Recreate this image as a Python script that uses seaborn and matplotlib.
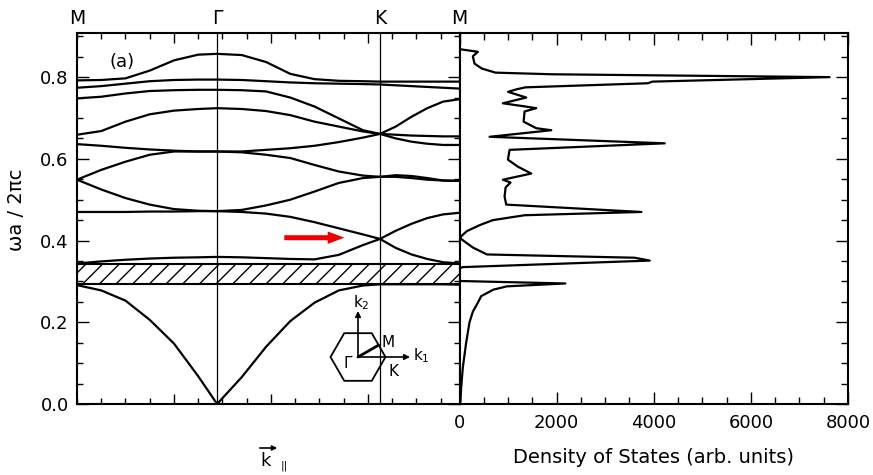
import numpy as np
import pandas as pd
import matplotlib
matplotlib.use("Agg")
import matplotlib.pyplot as plt
import matplotlib.transforms as mtransforms
from matplotlib.patches import Rectangle, Polygon, FancyArrowPatch
from matplotlib.ticker import MultipleLocator, FixedLocator
import seaborn as sns

# ---------------- data ----------------
# positions along the M - Gamma - K - M path (arbitrary units, proportional to |k|)
K_PATH = [0.0, 0.1, 0.2, 0.3, 0.4, 0.5, 0.578,
          0.68, 0.78, 0.88, 0.98, 1.08, 1.18, 1.25,
          1.315, 1.38, 1.445, 1.51, 1.578]
SYM_POS = [0.0, 0.578, 1.25, 1.578]
SYM_LABELS = ["M", "Γ", "K", "M"]

band1 = [0.291, 0.278, 0.253, 0.206, 0.148, 0.068, 0.000, 0.066, 0.140, 0.203, 0.248, 0.278, 0.290, 0.293, 0.293, 0.293, 0.293, 0.293, 0.292]
band2 = [0.344, 0.349, 0.353, 0.356, 0.358, 0.359, 0.360, 0.359, 0.357, 0.355, 0.354, 0.365, 0.389, 0.404, 0.382, 0.366, 0.355, 0.347, 0.344]
band3 = [0.470, 0.470, 0.470, 0.471, 0.471, 0.472, 0.472, 0.470, 0.466, 0.458, 0.445, 0.430, 0.415, 0.404, 0.424, 0.441, 0.455, 0.464, 0.468]
band4 = [0.549, 0.525, 0.504, 0.488, 0.477, 0.473, 0.472, 0.475, 0.486, 0.500, 0.520, 0.541, 0.553, 0.556, 0.556, 0.553, 0.549, 0.547, 0.546]
band5 = [0.636, 0.632, 0.627, 0.623, 0.620, 0.618, 0.618, 0.616, 0.610, 0.602, 0.585, 0.569, 0.559, 0.556, 0.560, 0.558, 0.553, 0.547, 0.546]
band6 = [0.549, 0.573, 0.593, 0.610, 0.618, 0.618, 0.618, 0.618, 0.622, 0.626, 0.632, 0.641, 0.652, 0.661, 0.650, 0.642, 0.637, 0.634, 0.634]
band7 = [0.659, 0.668, 0.691, 0.709, 0.718, 0.722, 0.724, 0.722, 0.717, 0.707, 0.691, 0.679, 0.667, 0.661, 0.659, 0.657, 0.656, 0.655, 0.655]
band8 = [0.748, 0.752, 0.760, 0.766, 0.768, 0.769, 0.769, 0.768, 0.765, 0.750, 0.728, 0.699, 0.670, 0.661, 0.679, 0.703, 0.724, 0.740, 0.746]
band9 = [0.774, 0.778, 0.784, 0.790, 0.793, 0.794, 0.794, 0.793, 0.790, 0.787, 0.785, 0.784, 0.783, 0.782, 0.780, 0.778, 0.776, 0.774, 0.772]
band10 = [0.792, 0.793, 0.797, 0.816, 0.841, 0.855, 0.857, 0.854, 0.837, 0.808, 0.795, 0.791, 0.790, 0.789, 0.789, 0.789, 0.789, 0.789, 0.789]
BANDS = [band1, band2, band3, band4, band5, band6, band7, band8, band9, band10]

GAP_LOW = 0.293
GAP_HIGH = 0.343

# density of states, traced from top (high frequency) to bottom
dos_omega = [0.868, 0.862, 0.851, 0.833, 0.821, 0.811, 0.807, 0.800, 0.789, 0.785,
             0.775, 0.770, 0.764, 0.750, 0.736, 0.729, 0.724, 0.716, 0.691, 0.675,
             0.670, 0.654, 0.638, 0.622, 0.598, 0.581, 0.564, 0.549, 0.542, 0.530,
             0.508, 0.488, 0.470, 0.462, 0.450, 0.438, 0.423, 0.410, 0.405, 0.383,
             0.366, 0.358, 0.351, 0.335, 0.331, 0.302, 0.301, 0.295, 0.288, 0.280,
             0.264, 0.248, 0.226, 0.200, 0.150, 0.090, 0.040, 0.008, 0.000]
dos_value = [30, 378, 275, 309, 460, 740, 1900, 7620, 3970, 3880,
             1360, 1168, 1000, 1375, 893, 1306, 1581, 1340, 1320, 1581,
             1890, 619, 4227, 1031, 997, 1200, 1478, 893, 1050, 950,
             928, 962, 3746, 1340, 687, 420, 150, 30, 20, 275,
             565, 3608, 3918, 60, 0, 0, 20, 2180, 980, 700,
             447, 378, 275, 206, 137, 69, 34, 20, 0]

DOS_TICKS = [0, 2000, 4000, 6000, 8000]

# ---------------- style ----------------
sns.set_style("ticks")
plt.rcParams["font.family"] = ["DejaVu Sans"]
plt.rcParams["hatch.linewidth"] = 1.0
plt.rcParams["axes.linewidth"] = 1.5
for key in ["text.color", "axes.labelcolor", "xtick.color", "ytick.color", "axes.edgecolor"]:
    plt.rcParams[key] = "black"

W, H = 873, 475
fig = plt.figure(figsize=(W / 100, H / 100), dpi=100)

def fx(px):
    return px / W

def fy(py):
    return 1 - py / H

ax1 = fig.add_axes([fx(77), fy(404), fx(459.5) - fx(77), fy(33) - fy(404)])
ax2 = fig.add_axes([fx(459.5), fy(404), fx(848) - fx(459.5), fy(33) - fy(404)])

YMAX = 0.908

# ---------------- band structure ----------------
rows = []
for b, vals in enumerate(BANDS):
    for k, w in zip(K_PATH, vals):
        rows.append({"band": b, "k": k, "omega": w})
df_bands = pd.DataFrame(rows)

ax1.add_patch(Rectangle((0, GAP_LOW), SYM_POS[-1], GAP_HIGH - GAP_LOW,
                        facecolor="none", edgecolor="black", hatch="//",
                        lw=1.5, zorder=1))
for p in SYM_POS[1:3]:
    ax1.axvline(p, color="black", lw=0.9, zorder=1)

sns.lineplot(data=df_bands, x="k", y="omega", units="band", estimator=None,
             sort=False, color="black", lw=1.6, ax=ax1, legend=False, zorder=3)

ax1.set_xlim(0, SYM_POS[-1])
ax1.set_ylim(0, YMAX)
ax1.set_xlabel("")
ax1.set_ylabel("")
ax1.xaxis.set_major_locator(FixedLocator([0.4, 0.8, 1.2]))
ax1.xaxis.set_minor_locator(MultipleLocator(0.1))
ax1.yaxis.set_major_locator(MultipleLocator(0.2))
ax1.yaxis.set_minor_locator(MultipleLocator(0.05))
ax1.yaxis.set_major_formatter(plt.FuncFormatter(lambda v, p: f"{v:.1f}"))
ax1.tick_params(axis="x", which="both", direction="in", top=True, bottom=True,
                labelbottom=False, width=1.0)
ax1.tick_params(axis="x", which="major", length=7.5)
ax1.tick_params(axis="x", which="minor", length=4.5)
ax1.tick_params(axis="y", which="both", direction="in", left=True, right=True,
                width=1.0, labelsize=13, pad=6)
ax1.tick_params(axis="y", which="major", length=8.5)
ax1.tick_params(axis="y", which="minor", length=4.5)
for s in ax1.spines.values():
    s.set_linewidth(1.5)

trans = mtransforms.blended_transform_factory(ax1.transData, ax1.transAxes)
for p, lab in zip(SYM_POS, SYM_LABELS):
    ax1.text(p, 1.014, lab, transform=trans, ha="center", va="bottom", fontsize=13.5)

ax1.text(0.184, 0.838, "(a)", ha="center", va="center", fontsize=13)

# red arrow
ax1.annotate("", xy=(1.103, 0.407), xytext=(0.855, 0.407),
             arrowprops=dict(arrowstyle="simple,head_length=1.2,head_width=0.9,tail_width=0.36",
                             mutation_scale=10, fc="#f00000", ec="#f00000", lw=0,
                             shrinkA=0, shrinkB=0), zorder=5)

# ---------------- density of states ----------------
df_dos = pd.DataFrame({"dos": dos_value, "omega": dos_omega})
sns.lineplot(data=df_dos, x="dos", y="omega", sort=False, estimator=None,
             color="black", lw=1.6, ax=ax2, legend=False)
ax2.set_xlim(0, 8000)
ax2.set_ylim(0, YMAX)
ax2.set_xlabel("Density of States (arb. units)", fontsize=14, labelpad=12)
ax2.set_ylabel("")
ax2.xaxis.set_major_locator(FixedLocator(DOS_TICKS))
ax2.xaxis.set_minor_locator(MultipleLocator(500))
ax2.yaxis.set_major_locator(MultipleLocator(0.2))
ax2.yaxis.set_minor_locator(MultipleLocator(0.05))
ax2.tick_params(axis="x", which="both", direction="in", top=True, bottom=True,
                labelsize=13, pad=7, width=1.0)
ax2.tick_params(axis="x", which="major", length=8.5)
ax2.tick_params(axis="x", which="minor", length=5)
ax2.tick_params(axis="y", which="both", direction="in", left=False, right=True,
                labelleft=False, labelright=False, width=1.0)
ax2.tick_params(axis="y", which="major", length=9)
ax2.tick_params(axis="y", which="minor", length=5)
for s in ax2.spines.values():
    s.set_linewidth(1.5)

# ---------------- labels ----------------
fig.text(fx(16), fy(210), "ωa / 2πc", rotation=90, ha="center", va="center", fontsize=14)

fig.text(fx(266), fy(461), "k", ha="center", va="center", fontsize=13)
fig.text(fx(284), fy(466), "||", ha="center", va="center", fontsize=8)
fig.add_artist(FancyArrowPatch((fx(257), fy(448)), (fx(280), fy(448)),
                               transform=fig.transFigure, arrowstyle="-|>",
                               mutation_scale=7, lw=1.2, color="black"))

# ---------------- Brillouin zone inset ----------------
axi = fig.add_axes([fx(320), fy(395), fx(440) - fx(320), fy(290) - fy(395)])
axi.set_xlim(320, 440)
axi.set_ylim(395, 290)
axi.axis("off")
cx, cy, R = 358, 357, 27.5
ang = np.deg2rad(np.arange(0, 360, 60))
hexv = np.column_stack([cx + R * np.cos(ang), cy - R * np.sin(ang)])
axi.add_patch(Polygon(hexv, closed=True, fill=False, ec="black", lw=1.3))
mx, my = (hexv[0] + hexv[1]) / 2
axi.plot([cx, mx], [cy, my], color="black", lw=2.0)
axi.annotate("", xy=(410, cy), xytext=(cx, cy),
             arrowprops=dict(arrowstyle="-|>", mutation_scale=8, lw=1.2, color="black",
                             shrinkA=0, shrinkB=0))
axi.annotate("", xy=(cx, 311), xytext=(cx, cy),
             arrowprops=dict(arrowstyle="-|>", mutation_scale=8, lw=1.2, color="black",
                             shrinkA=0, shrinkB=0))
axi.text(361, 303, r"$\mathregular{k_2}$", ha="center", va="center", fontsize=11)
axi.text(421, 356, r"$\mathregular{k_1}$", ha="center", va="center", fontsize=11)
axi.text(388, 343, "M", ha="center", va="center", fontsize=11)
axi.text(348, 364, "Γ", ha="center", va="center", fontsize=11)
axi.text(393, 372, "K", ha="center", va="center", fontsize=11)

fig.savefig("out.png", dpi=100)
